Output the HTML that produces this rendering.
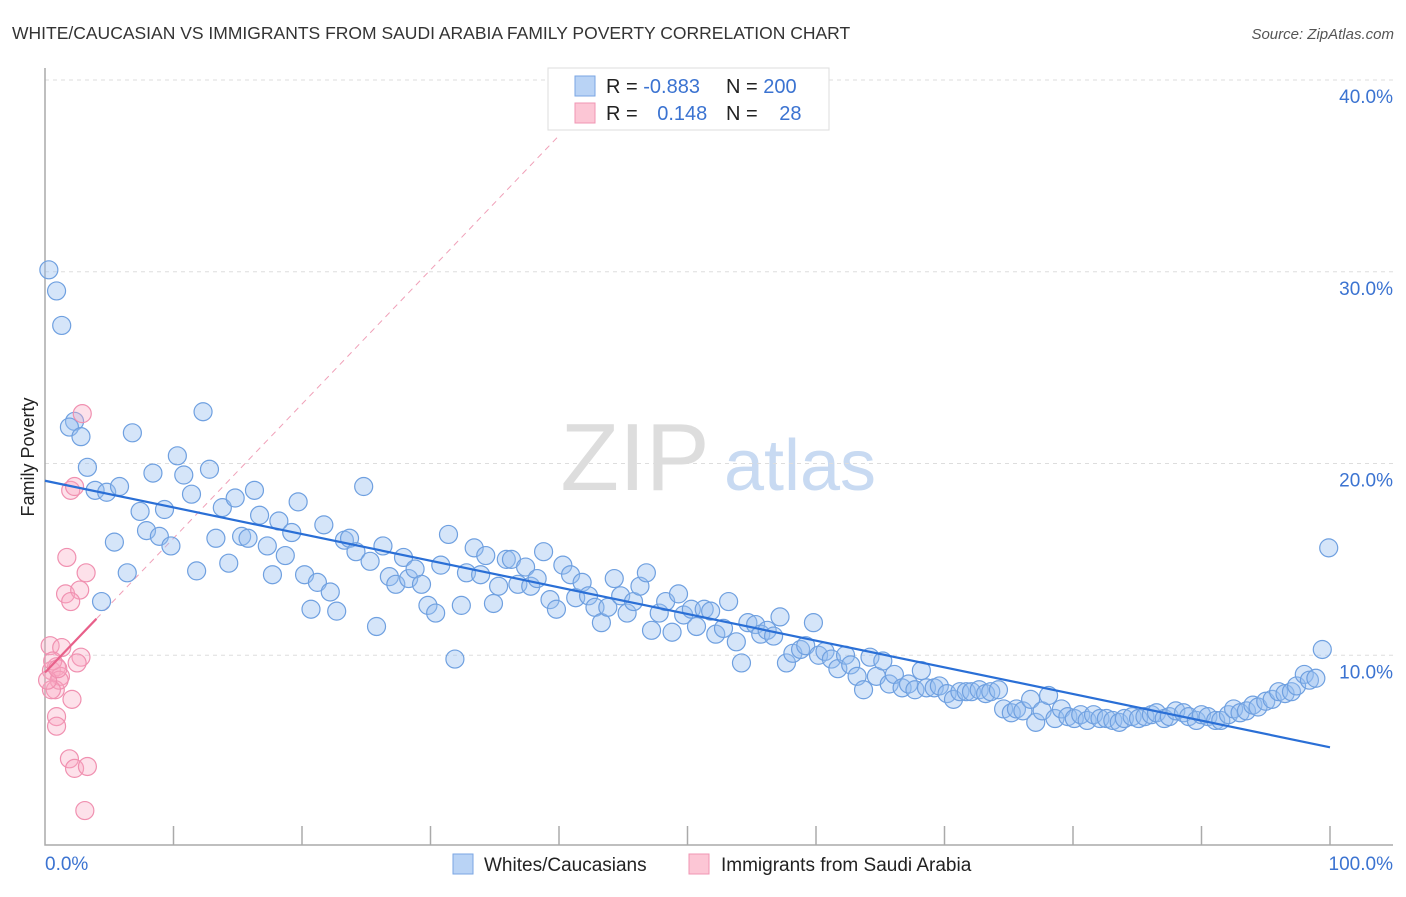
<!DOCTYPE html>
<html><head><meta charset="utf-8"><style>
body{margin:0;background:#fff;font-family:"Liberation Sans",sans-serif}
svg text{font-family:"Liberation Sans",sans-serif}
</style></head><body>
<svg id="chart" width="1406" height="892" xmlns="http://www.w3.org/2000/svg">
<text x="12" y="39" font-size="17.5" fill="#333">WHITE/CAUCASIAN VS IMMIGRANTS FROM SAUDI ARABIA FAMILY POVERTY CORRELATION CHART</text>
<text x="1394" y="39" font-size="15" fill="#555" font-style="italic" text-anchor="end">Source: ZipAtlas.com</text>
<g>
<text x="635" y="490" font-size="96" fill="#ddd" font-family="Liberation Serif" text-anchor="middle">ZIP</text>
<text x="800" y="490" font-size="72" fill="#c8daf2" text-anchor="middle">atlas</text>
</g>
<g id="grid"></g>
<g id="axes"></g>
<g id="marks"></g>
<text transform="translate(34,457) rotate(-90)" font-size="18" fill="#222" text-anchor="middle">Family Poverty</text>
<g>
<rect x="548" y="68" width="281" height="62" fill="#fff" stroke="#ddd"/>
<rect x="575" y="76" width="20" height="20" fill="#b9d3f5" stroke="#7aa6e3"/>
<rect x="575" y="103" width="20" height="20" fill="#fcc6d5" stroke="#f095b3"/>
<text x="606" y="93" font-size="20" fill="#222">R = <tspan fill="#3b73d1">-0.883</tspan></text>
<text x="726" y="93" font-size="20" fill="#222">N = <tspan fill="#3b73d1">200</tspan></text>
<text x="606" y="120" font-size="20" fill="#222">R = <tspan fill="#3b73d1" dx="14">0.148</tspan></text>
<text x="726" y="120" font-size="20" fill="#222">N = <tspan fill="#3b73d1" dx="16">28</tspan></text>
</g>
<g>
<rect x="453" y="854" width="20" height="20" fill="#b9d3f5" stroke="#7aa6e3"/>
<text x="484" y="871" font-size="19" fill="#222">Whites/Caucasians</text>
<rect x="689" y="854" width="20" height="20" fill="#fcc6d5" stroke="#f095b3"/>
<text x="721" y="871" font-size="19" fill="#222">Immigrants from Saudi Arabia</text>
</g>
</svg>
<script>
const blueX=[0.3,0.9,1.3,2.3,1.9,2.8,3.3,3.9,4.8,5.8,4.4,5.4,6.4,6.8,7.4,7.9,8.4,8.9,9.3,9.8,10.3,10.8,11.4,11.8,12.3,12.8,13.3,13.8,14.3,14.8,15.3,15.8,16.3,16.7,17.3,17.7,18.2,18.7,19.2,19.7,20.2,20.7,21.2,21.7,22.2,22.7,23.3,23.7,24.2,24.8,25.3,25.8,26.3,26.8,27.3,27.9,28.3,28.8,29.3,29.8,30.4,30.8,31.4,31.9,32.4,32.8,33.4,33.9,34.3,34.9,35.3,35.9,36.3,36.8,37.4,37.8,38.3,38.8,39.3,39.8,40.3,40.9,41.3,41.8,42.3,42.8,43.3,43.8,44.3,44.8,45.3,45.8,46.3,46.8,47.2,47.8,48.3,48.8,49.3,49.7,50.3,50.7,51.3,51.8,52.2,52.8,53.2,53.8,54.2,54.7,55.3,55.7,56.2,56.7,57.2,57.7,58.2,58.8,59.2,59.8,60.2,60.7,61.2,61.7,62.3,62.7,63.2,63.7,64.2,64.7,65.2,65.7,66.1,66.7,67.2,67.7,68.2,68.6,69.2,69.6,70.2,70.7,71.2,71.7,72.1,72.7,73.2,73.6,74.2,74.6,75.2,75.6,76.1,76.7,77.1,77.6,78.1,78.6,79.1,79.6,80.1,80.6,81.1,81.6,82.1,82.6,83.1,83.6,84.0,84.6,85.1,85.6,86.1,86.5,87.1,87.5,88.0,88.6,89.0,89.6,90.0,90.5,91.1,91.5,92.1,92.5,93.0,93.5,94.0,94.4,95.0,95.5,96.0,96.5,97.0,97.4,98.0,98.4,98.9,99.4,99.9];
const blueY=[30.1,29.0,27.2,22.2,21.9,21.4,19.8,18.6,18.5,18.8,12.8,15.9,14.3,21.6,17.5,16.5,19.5,16.2,17.6,15.7,20.4,19.4,18.4,14.4,22.7,19.7,16.1,17.7,14.8,18.2,16.2,16.1,18.6,17.3,15.7,14.2,17.0,15.2,16.4,18.0,14.2,12.4,13.8,16.8,13.3,12.3,16.0,16.1,15.4,18.8,14.9,11.5,15.7,14.1,13.7,15.1,14.0,14.5,13.7,12.6,12.2,14.7,16.3,9.8,12.6,14.3,15.6,14.2,15.2,12.7,13.6,15.0,15.0,13.7,14.6,13.6,14.0,15.4,12.9,12.4,14.7,14.2,13.0,13.8,13.1,12.5,11.7,12.5,14.0,13.1,12.2,12.8,13.6,14.3,11.3,12.2,12.8,11.2,13.2,12.1,12.4,11.5,12.4,12.3,11.1,11.4,12.8,10.7,9.6,11.7,11.6,11.1,11.3,11.0,12.0,9.6,10.1,10.3,10.5,11.7,10.0,10.2,9.8,9.3,10.0,9.5,8.9,8.2,9.9,8.9,9.7,8.5,9.0,8.3,8.5,8.2,9.2,8.3,8.3,8.4,8.0,7.7,8.1,8.1,8.1,8.2,8.0,8.1,8.2,7.2,7.0,7.2,7.1,7.7,6.5,7.1,7.9,6.7,7.2,6.8,6.7,6.9,6.6,6.9,6.7,6.7,6.6,6.5,6.7,6.8,6.7,6.8,6.9,7.0,6.7,6.8,7.1,7.0,6.8,6.6,6.9,6.8,6.6,6.6,6.9,7.2,7.0,7.1,7.4,7.3,7.6,7.7,8.1,8.0,8.1,8.4,9.0,8.7,8.8,10.3,15.6];
const pinkX=[2.9,2.0,2.3,1.7,3.2,1.6,2.7,2.0,0.4,1.3,2.8,2.5,0.5,0.9,1.2,0.8,1.1,0.5,2.1,0.9,0.9,1.9,2.3,3.3,3.1,0.2,0.6,1.0];
const pinkY=[22.6,18.6,18.8,15.1,14.3,13.2,13.4,12.8,10.5,10.4,9.9,9.6,9.2,9.4,8.9,8.2,8.7,8.2,7.7,6.8,6.3,4.6,4.1,4.2,1.9,8.7,9.7,9.3];
const blueTrend=[[0,19.1],[100,5.2]];
const pinkTrend=[[0,9.1],[4,11.9]];
const yTicks=[10,20,30,40];
const yTickLabels=["10.0%","20.0%","30.0%","40.0%"];
const xTicks=[10,20,30,40,50,60,70,80,90,100];

const NS="http://www.w3.org/2000/svg";
const X0=45,X1=1330,Y0=847,Y40=80;
const sx=v=>X0+(X1-X0)*v/100;
const sy=v=>Y0-(Y0-Y40)*v/40;
function mk(tag,attrs,parent){const e=document.createElementNS(NS,tag);for(const k in attrs)e.setAttribute(k,attrs[k]);document.getElementById(parent).appendChild(e);return e;}
yTicks.forEach((t,i)=>{
 const g=mk('line',{x1:X0,x2:1393,y1:sy(t),y2:sy(t),stroke:'#ddd','stroke-dasharray':'4,4'},'grid');
 
 
 const l=mk('text',{x:1393,y:sy(t)+23,'font-size':19,fill:'#3b73d1','text-anchor':'end'},'axes');
 l.textContent=yTickLabels[i];
 
 
});
const ax=mk('path',{d:`M${X0},68 V845 H1393`,stroke:'#aaa',fill:'none','stroke-width':1.5},'axes');


xTicks.forEach(t=>{
 const k=mk('line',{x1:sx(t),x2:sx(t),y1:826,y2:845,stroke:'#aaa','stroke-width':1.5},'axes');
 
 
});
const xl0=mk('text',{x:45,y:870,'font-size':19,fill:'#3b73d1'},'axes');xl0.textContent='0.0%';


const xl1=mk('text',{x:1393,y:870,'font-size':19,fill:'#3b73d1','text-anchor':'end'},'axes');xl1.textContent='100.0%';


// pink dashed extension
const p0=pinkTrend[0],p1=pinkTrend[1],sl=(p1[1]-p0[1])/(p1[0]-p0[0]);
const xe=p0[0]+(37-p0[1])/sl;
const d=mk('line',{x1:sx(p1[0]),y1:sy(p1[1]),x2:sx(xe),y2:sy(37),stroke:'#f0a0b8','stroke-dasharray':'6,5','stroke-width':1},'marks');


blueX.forEach((v,i)=>{
 const c=mk('circle',{cx:sx(v),cy:sy(blueY[i]),r:9,fill:'rgba(150,190,240,0.4)',stroke:'#6fa0e0','stroke-width':1.2},'marks');
 
 
});
pinkX.forEach((v,i)=>{
 const c=mk('circle',{cx:sx(v),cy:sy(pinkY[i]),r:9,fill:'rgba(248,170,195,0.35)',stroke:'#f090b0','stroke-width':1.2},'marks');
 
 
});
const bt=mk('line',{x1:sx(blueTrend[0][0]),y1:sy(blueTrend[0][1]),x2:sx(blueTrend[1][0]),y2:sy(blueTrend[1][1]),stroke:'#2a6fd6','stroke-width':2.2},'marks');


const pt=mk('line',{x1:sx(p0[0]),y1:sy(p0[1]),x2:sx(p1[0]),y2:sy(p1[1]),stroke:'#e8608a','stroke-width':2.2},'marks');


</script>
</body></html>
